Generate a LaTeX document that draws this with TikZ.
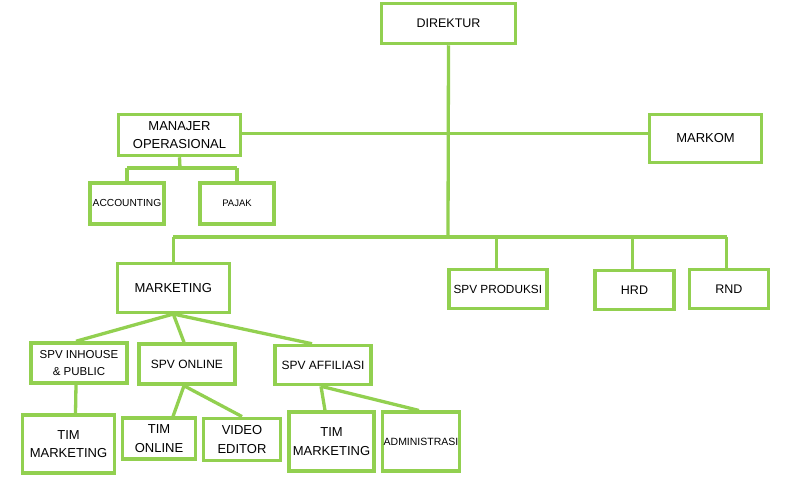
\documentclass[tikz,border=0pt]{standalone}
\usepackage{fontspec}
\setmainfont{Liberation Sans}
\definecolor{lgreen}{HTML}{92D050}
\begin{document}
\begin{tikzpicture}[x=1pt,y=-1pt,
  box/.style={draw=lgreen,line width=3.5pt,fill=white,inner sep=0pt,align=center,
    font=\fontsize{13}{18.5}\selectfont},
  con/.style={draw=lgreen,line width=3.3pt}]
\useasboundingbox (0,0) rectangle (790,485);
% boxes
\node[box,minimum width=134,minimum height=40,font=\fontsize{12.5}{15}\selectfont] (dir) at (448.5,23.5) {DIREKTUR};
\node[box,minimum width=122,minimum height=41] (man) at (179.5,135) {MANAJER\\OPERASIONAL};
\node[box,minimum width=112,minimum height=48] (mk) at (705.5,138.5) {MARKOM};
\node[box,minimum width=74,minimum height=41,font=\fontsize{10.2}{12}\selectfont] (acc) at (127,203.3) {ACCOUNTING};
\node[box,minimum width=74,minimum height=41,font=\fontsize{9.5}{12}\selectfont] (paj) at (237,203.3) {PAJAK};
\node[box,minimum width=112,minimum height=49] (mkt) at (173.3,287.8) {MARKETING};
\node[box,minimum width=98,minimum height=39,font=\fontsize{11.8}{14}\selectfont] (prod) at (497.8,289) {SPV PRODUKSI};
\node[box,minimum width=79,minimum height=39,font=\fontsize{12.5}{15}\selectfont] (hrd) at (634.5,289.8) {HRD};
\node[box,minimum width=79,minimum height=39,font=\fontsize{12.5}{15}\selectfont] (rnd) at (728.8,289) {RND};
\node[box,minimum width=96,minimum height=40,font=\fontsize{11.5}{17.7}\selectfont] (inh) at (79,363) {SPV INHOUSE\\\& PUBLIC};
\node[box,minimum width=96,minimum height=40,font=\fontsize{12}{15}\selectfont] (onl) at (187,364) {SPV ONLINE};
\node[box,minimum width=96,minimum height=39,font=\fontsize{12}{15}\selectfont] (aff) at (323,365) {SPV AFFILIASI};
\node[box,minimum width=92,minimum height=58] (tm1) at (68.5,444) {TIM\\MARKETING};
\node[box,minimum width=73,minimum height=41] (to) at (159,438.7) {TIM\\ONLINE};
\node[box,minimum width=77,minimum height=42] (ve) at (242,439.3) {VIDEO\\EDITOR};
\node[box,minimum width=85,minimum height=59] (tm2) at (331.5,441.7) {TIM\\MARKETING};
\node[box,minimum width=77,minimum height=59,font=\fontsize{10.5}{12}\selectfont] (adm) at (421,441.7) {ADMINISTRASI};
% coordinates
\coordinate (bus) at (448,237);
\coordinate (mj) at (180,168);
% connectors
\draw[con] (dir.south) -- (bus);
\draw[con] ([yshift=1.7pt]man.east) -- ([yshift=1.7pt]mk.west |- man.east);
\draw[con] (man.south) -- (mj);
\draw[con] (acc.north |- mj) -- (paj.north |- mj);
\draw[con] (acc.north |- mj) -- (acc.north);
\draw[con] (paj.north |- mj) -- (paj.north);
\draw[con] (mkt.north |- bus) -- ([xshift=-2pt]rnd.north |- bus);
\draw[con] (mkt.north |- bus) -- (mkt.north);
\draw[con] ([xshift=-1pt]prod.north |- bus) -- ([xshift=-1pt]prod.north);
\draw[con] ([xshift=-2pt]hrd.north |- bus) -- ([xshift=-2pt]hrd.north);
\draw[con] ([xshift=-2pt]rnd.north |- bus) -- ([xshift=-2pt]rnd.north);
\draw[con] (mkt.south) -- ([xshift=-3pt]inh.north);
\draw[con] (mkt.south) -- ([xshift=-3pt]onl.north);
\draw[con] (mkt.south) -- ([xshift=-11pt]aff.north);
\draw[con] ([xshift=-3pt]inh.south) -- ([xshift=7pt]tm1.north);
\draw[con] ([xshift=-3pt]onl.south) -- ([xshift=14pt]to.north);
\draw[con] ([xshift=-3pt]onl.south) -- (ve.north);
\draw[con] ([xshift=-2pt]aff.south) -- ([xshift=-6.5pt]tm2.north);
\draw[con] ([xshift=-2pt]aff.south) -- ([xshift=-2pt]adm.north);
\end{tikzpicture}
\end{document}
